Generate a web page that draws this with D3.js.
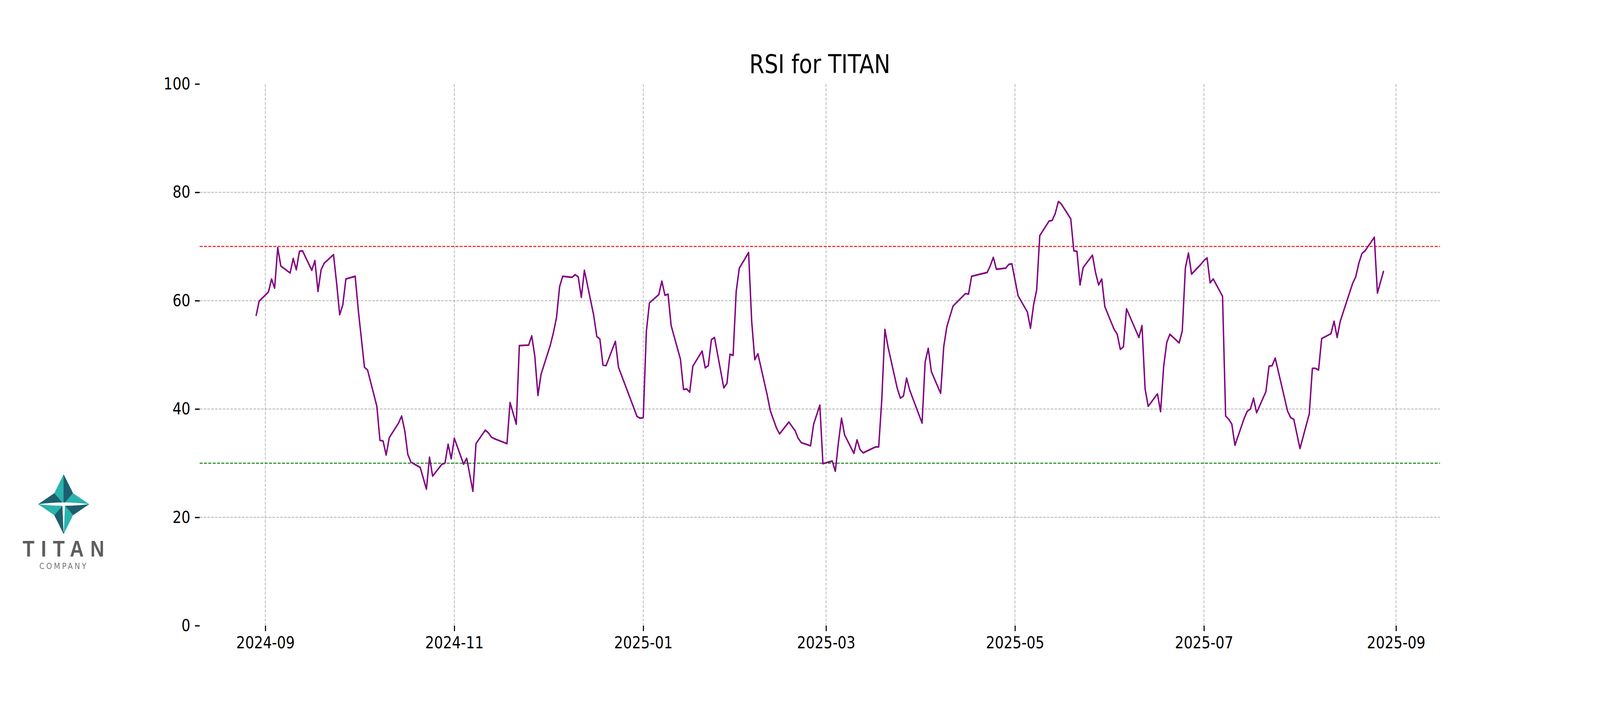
<!DOCTYPE html>
<html>
<head>
<meta charset="utf-8">
<script src="https://cdnjs.cloudflare.com/ajax/libs/d3/7.8.5/d3.min.js"></script>
<style>
html,body{margin:0;padding:0;background:#fff;overflow:hidden;}
text{font-family:"DejaVu Sans",sans-serif;}
</style>
</head>
<body>
<div id="canvas" class="canvas"></div>
<script>
// RSI readings for TITAN
var dates = [
 '2024-08-29','2024-08-30','2024-09-02','2024-09-03','2024-09-04','2024-09-05','2024-09-06',
 '2024-09-09','2024-09-10','2024-09-11','2024-09-12','2024-09-13','2024-09-16','2024-09-17',
 '2024-09-18','2024-09-19','2024-09-20','2024-09-23','2024-09-24','2024-09-25','2024-09-26',
 '2024-09-27','2024-09-30','2024-10-01','2024-10-03','2024-10-04','2024-10-07','2024-10-08',
 '2024-10-09','2024-10-10','2024-10-11','2024-10-14','2024-10-15','2024-10-16','2024-10-17',
 '2024-10-18','2024-10-21','2024-10-23','2024-10-24','2024-10-25','2024-10-28','2024-10-29',
 '2024-10-30','2024-10-31','2024-11-01','2024-11-04','2024-11-05','2024-11-07','2024-11-08',
 '2024-11-11','2024-11-12','2024-11-13','2024-11-14','2024-11-18','2024-11-19','2024-11-21',
 '2024-11-22','2024-11-25','2024-11-26','2024-11-27','2024-11-28','2024-11-29','2024-12-02',
 '2024-12-03','2024-12-04','2024-12-05','2024-12-06','2024-12-09','2024-12-10','2024-12-11',
 '2024-12-12','2024-12-13','2024-12-16','2024-12-17','2024-12-18','2024-12-19','2024-12-20',
 '2024-12-23','2024-12-24','2024-12-30','2024-12-31','2025-01-01','2025-01-02','2025-01-03',
 '2025-01-06','2025-01-07','2025-01-08','2025-01-09','2025-01-10','2025-01-13','2025-01-14',
 '2025-01-15','2025-01-16','2025-01-17','2025-01-20','2025-01-21','2025-01-22','2025-01-23',
 '2025-01-24','2025-01-27','2025-01-28','2025-01-29','2025-01-30','2025-01-31','2025-02-01',
 '2025-02-03','2025-02-04','2025-02-05','2025-02-06','2025-02-07','2025-02-10','2025-02-11',
 '2025-02-13','2025-02-14','2025-02-17','2025-02-19','2025-02-20','2025-02-21','2025-02-24',
 '2025-02-25','2025-02-27','2025-02-28','2025-03-03','2025-03-04','2025-03-05','2025-03-06',
 '2025-03-07','2025-03-10','2025-03-11','2025-03-12','2025-03-13','2025-03-17','2025-03-18',
 '2025-03-19','2025-03-20','2025-03-21','2025-03-24','2025-03-25','2025-03-26','2025-03-27',
 '2025-03-28','2025-04-01','2025-04-02','2025-04-03','2025-04-04','2025-04-07','2025-04-08',
 '2025-04-09','2025-04-11','2025-04-15','2025-04-16','2025-04-17','2025-04-22','2025-04-23',
 '2025-04-24','2025-04-25','2025-04-28','2025-04-29','2025-04-30','2025-05-02','2025-05-05',
 '2025-05-06','2025-05-07','2025-05-08','2025-05-09','2025-05-12','2025-05-13','2025-05-14',
 '2025-05-15','2025-05-16','2025-05-19','2025-05-20','2025-05-21','2025-05-22','2025-05-23',
 '2025-05-26','2025-05-27','2025-05-28','2025-05-29','2025-05-30','2025-06-02','2025-06-03',
 '2025-06-04','2025-06-05','2025-06-06','2025-06-10','2025-06-11','2025-06-12','2025-06-13',
 '2025-06-16','2025-06-17','2025-06-18','2025-06-19','2025-06-20','2025-06-23','2025-06-24',
 '2025-06-25','2025-06-26','2025-06-27','2025-06-30','2025-07-01','2025-07-02','2025-07-03',
 '2025-07-04','2025-07-07','2025-07-08','2025-07-09','2025-07-10','2025-07-11','2025-07-14',
 '2025-07-15','2025-07-16','2025-07-17','2025-07-18','2025-07-21','2025-07-22','2025-07-23',
 '2025-07-24','2025-07-28','2025-07-29','2025-07-30','2025-08-01','2025-08-04','2025-08-05',
 '2025-08-06','2025-08-07','2025-08-08','2025-08-11','2025-08-12','2025-08-13','2025-08-14',
 '2025-08-18','2025-08-19','2025-08-20','2025-08-21','2025-08-22','2025-08-25','2025-08-26',
 '2025-08-28'
];

var rsi = [
 57.2,59.9,61.6,64.0,62.3,69.8,66.4,
 65.1,67.8,65.7,69.1,69.2,65.6,67.4,
 61.7,65.7,66.9,68.5,63.3,57.4,59.2,
 64.0,64.5,58.3,47.7,47.2,40.5,34.2,
 34.1,31.5,34.7,37.4,38.7,36.0,31.6,
 30.2,29.2,25.2,31.1,27.6,29.8,30.0,
 33.5,30.8,34.6,29.8,30.9,24.8,33.6,
 36.1,35.6,34.8,34.5,33.6,41.2,37.2,
 51.7,51.8,53.5,49.7,42.5,46.4,51.8,
 54.1,56.9,62.6,64.5,64.3,64.8,64.4,
 60.6,65.6,57.3,53.4,52.9,48.1,48.0,
 52.5,47.7,38.6,38.3,38.4,54.3,59.6,
 61.1,63.6,61.0,61.2,55.4,49.2,43.6,
 43.7,43.1,47.9,50.7,47.6,48.0,52.8,
 53.2,43.9,44.7,50.1,49.9,61.7,66.0,
 67.9,68.9,56.2,49.1,50.2,42.6,39.7,
 36.5,35.4,37.6,36.0,34.6,33.8,33.2,
 37.2,40.7,29.9,30.4,28.5,33.8,38.3,
 35.2,31.8,34.3,32.5,31.9,33.0,33.0,
 41.7,54.7,51.5,43.8,42.0,42.4,45.7,
 43.5,37.4,48.7,51.2,46.9,42.9,51.5,
 55.2,59.0,61.3,61.2,64.5,65.2,66.4,
 68.0,65.8,66.0,66.7,66.8,60.9,57.9,
 54.9,59.2,62.0,72.0,74.7,74.8,76.1,
 78.3,77.8,75.1,69.2,69.1,62.9,66.1,
 68.4,65.2,62.9,64.0,58.9,54.7,53.8,
 51.0,51.5,58.5,53.2,55.4,43.7,40.5,
 42.8,39.5,47.9,52.3,53.8,52.2,54.4,
 66.0,68.8,64.9,66.7,67.4,67.9,63.3,
 64.0,60.8,38.7,38.1,37.2,33.3,38.3,
 39.6,40.0,42.0,39.3,43.2,47.9,48.0,
 49.4,39.6,38.4,38.1,32.7,39.1,47.5,
 47.5,47.2,53.0,53.9,56.2,53.2,56.2,
 63.2,64.4,66.9,68.7,69.2,71.7,61.4,
 65.5
];

var yTicks = [0, 20, 40, 60, 80, 100];
var overbought = 70,
    oversold = 30;

// drawing space is 4800x1800, stretched onto the real viewport
// (the browser caps the window width, so it may be narrower)
var W = 4800, H = 1800;
var m = {t:215, r:480, b:198, l:599},
    w = W - m.l - m.r,
    h = H - m.t - m.b;

var svg = d3.select('.canvas')
    .append('svg')
    .attr('viewBox', '0 0 ' + W + ' ' + H)
    .attr('preserveAspectRatio', 'none')
    .style('width', '100vw')
    .style('height', '100vh')
    .style('display', 'block')
    .style('background', '#fff');

var plot = svg.append('g').attr('class', 'plot')
    .attr('transform', 'translate(' + m.l + ',' + m.t + ')');

var parse = d3.timeParse('%Y-%m-%d');
var data = dates.map(function(d, i){ return {date: parse(d), value: rsi[i]}; });

// x range gets the usual 5% margin on both sides
var ext = d3.extent(data, function(d){ return d.date; }),
    pad = (ext[1] - ext[0]) * 0.05;

var x = d3.scaleTime()
    .domain([new Date(+ext[0] - pad), new Date(+ext[1] + pad)])
    .range([0, w]);

var y = d3.scaleLinear()
    .domain([0, 100])
    .range([h, 0]);

var xTicks = x.ticks(d3.timeMonth.every(2));

// grid
plot.append('g').attr('class', 'grid-x')
    .selectAll('line')
    .data(xTicks)
    .enter()
    .append('line')
    .attr('x1', function(d){ return x(d); })
    .attr('x2', function(d){ return x(d); })
    .attr('y1', 0)
    .attr('y2', h)
    .style('stroke', '#b0b0b0')
    .style('stroke-width', 2)
    .style('stroke-dasharray', '8,3.5');

plot.append('g').attr('class', 'grid-y')
    .selectAll('line')
    .data(yTicks.filter(function(d){ return d > 0 && d < 100; }))
    .enter()
    .append('line')
    .attr('x1', 0)
    .attr('x2', w)
    .attr('y1', function(d){ return y(d); })
    .attr('y2', function(d){ return y(d); })
    .style('stroke', '#b0b0b0')
    .style('stroke-width', 2)
    .style('stroke-dasharray', '8,3.5');

// overbought / oversold levels
plot.selectAll('.level')
    .data([{v: overbought, c: '#ff0000'}, {v: oversold, c: '#008000'}])
    .enter()
    .append('line')
    .attr('class', 'level')
    .attr('x1', 0)
    .attr('x2', w)
    .attr('y1', function(d){ return y(d.v); })
    .attr('y2', function(d){ return y(d.v); })
    .style('stroke', function(d){ return d.c; })
    .style('stroke-width', 2.5)
    .style('stroke-dasharray', '9,4');

// rsi line
var line = d3.line()
    .x(function(d){ return x(d.date); })
    .y(function(d){ return y(d.value); });

plot.append('path')
    .datum(data)
    .attr('d', line)
    .style('fill', 'none')
    .style('stroke', '#800080')
    .style('stroke-width', 4.2)
    .style('stroke-linejoin', 'round');

// axes
var xAxis = plot.append('g')
    .attr('transform', 'translate(0,' + h + ')')
    .call(d3.axisBottom(x)
        .tickValues(xTicks)
        .tickFormat(d3.timeFormat('%Y-%m'))
        .tickSize(14)
        .tickPadding(14));

var yAxis = plot.append('g')
    .call(d3.axisLeft(y)
        .tickValues(yTicks)
        .tickSize(14)
        .tickPadding(14));

[xAxis, yAxis].forEach(function(a){
    a.select('.domain').remove();
    a.selectAll('.tick line').style('stroke', '#000').style('stroke-width', 3.3);
    a.selectAll('.tick text')
        .style('font-family', '"DejaVu Sans", sans-serif')
        .style('font-size', '42px')
        .style('fill', '#000');
});

// title
svg.append('text')
    .attr('x', m.l + w / 2)
    .attr('y', 187)
    .attr('text-anchor', 'middle')
    .style('font-size', '65px')
    .style('fill', '#000')
    .text('RSI for TITAN');

// Titan company logo, bottom left
var logo = svg.append('g').attr('transform', 'translate(191,1291)');
var R = 76, k = 28;
var light = '#2ab3ad', dark = '#1d5f6f';
var facets = [
    [[0,0],[0,-R],[-k,-k], light],
    [[0,0],[0,-R],[k,-k], dark],
    [[0,0],[R,0],[k,-k], light],
    [[0,0],[R,0],[k,k], dark],
    [[0,0],[0,R],[k,k], light],
    [[0,0],[0,R],[-k,k], dark],
    [[0,0],[-R,0],[-k,k], light],
    [[0,0],[-R,0],[-k,-k], dark]
];
logo.selectAll('.facet')
    .data(facets)
    .enter()
    .append('path')
    .attr('class', 'facet')
    .attr('d', function(d){ return 'M' + d.slice(0,3).join('L') + 'Z'; })
    .style('fill', function(d){ return d[3]; })
    .style('stroke', function(d){ return d[3]; })
    .style('stroke-width', 0.6);
logo.append('path')
    .attr('d', 'M' + (-R) + ',0 Q0,-9 ' + R + ',0 Q0,8 ' + (-R) + ',0Z')
    .style('fill', '#fff');
logo.append('path')
    .attr('d', 'M-4,1 L4,1 L0.5,' + (R - 6) + ' L-0.5,' + (R - 6) + 'Z')
    .style('fill', '#fff');

svg.append('text')
    .attr('x', 68)
    .attr('y', 1425)
    .attr('textLength', 245)
    .attr('lengthAdjust', 'spacing')
    .style('font-family', '"Liberation Sans", sans-serif')
    .style('font-weight', 'bold')
    .style('font-size', '58px')
    .style('fill', '#5e5e5e')
    .text('TITAN');

svg.append('text')
    .attr('x', 118)
    .attr('y', 1457)
    .attr('textLength', 141)
    .attr('lengthAdjust', 'spacing')
    .style('font-family', '"DejaVu Sans", sans-serif')
    .style('font-size', '22px')
    .style('fill', '#777')
    .text('COMPANY');
</script>
</body>
</html>
